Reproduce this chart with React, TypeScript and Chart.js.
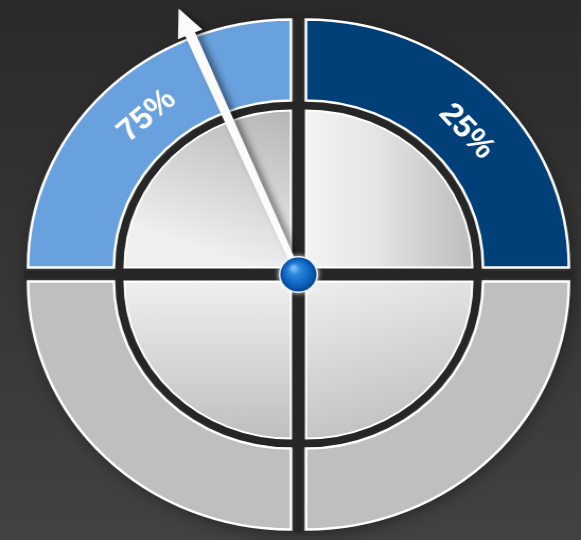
import React, { useEffect, useRef } from 'react';
import { Chart, registerables } from 'chart.js';

Chart.register(...registerables);

// ---- data ----
const QUADRANT_LABELS = ['25%', '', '', '75%'];
const OUTER_VALUES = [25, 25, 25, 25];
const OUTER_COLORS = ['#003f78', '#bfbfbf', '#bfbfbf', '#69a1de'];
const INNER_VALUES = [25, 25, 25, 25];
const NEEDLE_VALUE = 93.6; // percent of a full turn, clockwise from top

const CANVAS_W = 548;
const CANVAS_H = 540;
const CSS_W = 581;
const OUTER_RADIUS = 248;
const ARC_OFFSET = 40;
const LABEL_SHIFT = (3 * Math.PI) / 180;

function innerFill(c: any) {
  const chart = c.chart;
  const ca = chart.chartArea;
  if (!ca) return '#e0e0e0';
  const ctx = chart.ctx as CanvasRenderingContext2D;
  const cx = (ca.left + ca.right) / 2;
  const cy = (ca.top + ca.bottom) / 2;
  const r = 157;
  const i = c.dataIndex;
  let g: CanvasGradient;
  if (i === 0) {
    g = ctx.createLinearGradient(cx, cy, cx + r, cy);
    g.addColorStop(0, '#f3f3f3');
    g.addColorStop(0.4, '#e6e6e6');
    g.addColorStop(1, '#bdbdbd');
  } else if (i === 1) {
    g = ctx.createLinearGradient(cx, cy, cx + r * 0.3, cy + r);
    g.addColorStop(0, '#eeeeee');
    g.addColorStop(1, '#c2c2c2');
  } else if (i === 2) {
    g = ctx.createLinearGradient(cx, cy, cx, cy + r);
    g.addColorStop(0, '#efefef');
    g.addColorStop(1, '#bfbfbf');
  } else {
    g = ctx.createLinearGradient(cx, cy - r, cx - r * 0.35, cy - r * 0.05);
    g.addColorStop(0, '#b5b5b5');
    g.addColorStop(1, '#efefef');
  }
  return g;
}

const decorPlugin = {
  id: 'decor',
  beforeDatasetsDraw(chart: any) {
    const ctx = chart.ctx as CanvasRenderingContext2D;
    const ca = chart.chartArea;
    const cx = (ca.left + ca.right) / 2;
    const cy = (ca.top + ca.bottom) / 2;
    ctx.save();
    ctx.shadowColor = 'rgba(0,0,0,0.45)';
    ctx.shadowBlur = 18;
    ctx.shadowOffsetX = 2;
    ctx.shadowOffsetY = 4;
    ctx.beginPath();
    ctx.arc(cx, cy, 256, 0, Math.PI * 2);
    ctx.fillStyle = '#313131';
    ctx.fill();
    ctx.restore();

    ctx.save();
    ctx.fillStyle = '#262626';
    ctx.beginPath();
    ctx.arc(cx, cy, 174, 0, Math.PI * 2);
    ctx.fill();
    ctx.strokeStyle = '#262626';
    ctx.lineWidth = 7;
    ctx.beginPath();
    ctx.moveTo(cx - 258, cy);
    ctx.lineTo(cx + 258, cy);
    ctx.moveTo(cx, cy - 258);
    ctx.lineTo(cx, cy + 258);
    ctx.stroke();
    ctx.restore();
  },
  afterDatasetsDraw(chart: any) {
    const ctx = chart.ctx as CanvasRenderingContext2D;
    const ca = chart.chartArea;
    const cx = (ca.left + ca.right) / 2;
    const cy = (ca.top + ca.bottom) / 2;
    const labels = chart.data.labels as string[];
    const meta = chart.getDatasetMeta(0);

    // labels on outer ring
    meta.data.forEach((arc: any, i: number) => {
      const text = labels[i];
      if (!text) return;
      const p = arc.getProps(['startAngle', 'endAngle', 'innerRadius', 'outerRadius'], true);
      const mid = (p.startAngle + p.endAngle) / 2 + LABEL_SHIFT;
      const rr = (p.innerRadius + p.outerRadius) / 2 + ARC_OFFSET / 4 - 3;
      const x = cx + Math.cos(mid) * rr;
      const y = cy + Math.sin(mid) * rr;
      ctx.save();
      ctx.translate(x, y);
      ctx.rotate(mid + Math.PI / 2);
      ctx.font = 'bold 31px "Liberation Sans", Arial, sans-serif';
      ctx.fillStyle = '#ffffff';
      ctx.textAlign = 'center';
      ctx.textBaseline = 'middle';
      ctx.fillText(text, 0, 1);
      ctx.restore();
    });

    // needle
    const ang = -Math.PI / 2 + (NEEDLE_VALUE / 100) * Math.PI * 2;
    const L = 289;
    const headLen = 28;
    const headHalf = 12.5;
    ctx.save();
    ctx.shadowColor = 'rgba(0,0,0,0.45)';
    ctx.shadowBlur = 6;
    ctx.shadowOffsetX = 5;
    ctx.shadowOffsetY = 2;
    ctx.translate(cx, cy);
    ctx.rotate(ang);
    ctx.beginPath();
    ctx.moveTo(0, -3);
    ctx.lineTo(L - headLen, -5);
    ctx.lineTo(L - headLen, -headHalf);
    ctx.lineTo(L, 0);
    ctx.lineTo(L - headLen, headHalf);
    ctx.lineTo(L - headLen, 5);
    ctx.lineTo(0, 3);
    ctx.closePath();
    ctx.fillStyle = '#fbfbfb';
    ctx.fill();
    ctx.restore();

    // ball
    const br = 17;
    ctx.save();
    ctx.shadowColor = 'rgba(255,255,255,0.9)';
    ctx.shadowBlur = 5;
    ctx.beginPath();
    ctx.arc(cx, cy, br + 1.5, 0, Math.PI * 2);
    ctx.fillStyle = '#e9eef4';
    ctx.fill();
    ctx.restore();
    ctx.save();
    const g = ctx.createRadialGradient(cx - 5, cy - 7, 1, cx, cy, br);
    g.addColorStop(0, '#7cc0f7');
    g.addColorStop(0.3, '#2a86dc');
    g.addColorStop(0.75, '#0c62bd');
    g.addColorStop(1, '#07468f');
    ctx.beginPath();
    ctx.arc(cx, cy, br, 0, Math.PI * 2);
    ctx.fillStyle = g;
    ctx.fill();
    ctx.restore();
  },
};

export default function App() {
  const ref = useRef<HTMLCanvasElement | null>(null);
  useEffect(() => {
    if (!ref.current) return;
    const chart = new Chart(ref.current, {
      type: 'doughnut',
      data: {
        labels: QUADRANT_LABELS,
        datasets: [
          {
            data: OUTER_VALUES,
            backgroundColor: OUTER_COLORS,
            borderColor: '#ffffff',
            borderWidth: 2.5,
            borderJoinStyle: 'miter',
            offset: ARC_OFFSET,
            weight: 81,
          } as any,
          {
            data: [1],
            backgroundColor: 'rgba(0,0,0,0)',
            borderWidth: 0,
            weight: 10,
          } as any,
          {
            data: INNER_VALUES,
            backgroundColor: innerFill,
            borderColor: '#ffffff',
            borderWidth: 2,
            borderJoinStyle: 'miter',
            offset: ARC_OFFSET,
            weight: 157,
          } as any,
        ],
      },
      options: {
        responsive: false,
        animation: false,
        devicePixelRatio: 1,
        events: [],
        radius: OUTER_RADIUS,
        cutout: 0,
        layout: { padding: { left: 15, right: 0, top: 9, bottom: 0 } },
        plugins: {
          legend: { display: false },
          tooltip: { enabled: false },
        },
      } as any,
      plugins: [decorPlugin],
    });
    return () => chart.destroy();
  }, []);

  return (
    <div
      style={{
        position: 'absolute',
        left: 0,
        top: 0,
        width: CSS_W,
        height: CANVAS_H,
        overflow: 'hidden',
        background: 'linear-gradient(180deg, #2a2a2a 0%, #363636 50%, #424242 100%)',
      }}
    >
      <canvas
        ref={ref}
        width={CANVAS_W}
        height={CANVAS_H}
        style={{ width: CSS_W + 'px', height: CANVAS_H + 'px', display: 'block' }}
      />
    </div>
  );
}
